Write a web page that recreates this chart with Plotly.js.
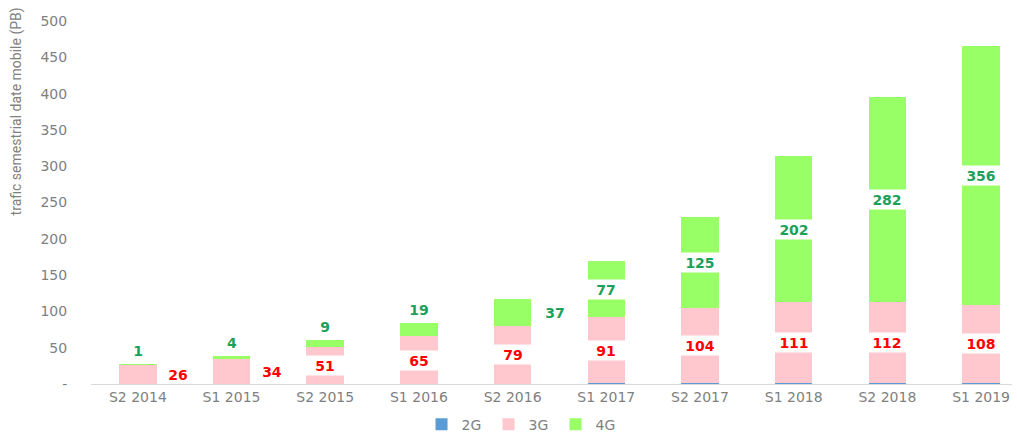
<!DOCTYPE html>
<html>
<head>
<meta charset="utf-8">
<script src="https://cdn.plot.ly/plotly-3.0.1.min.js"></script>
<style>html,body{margin:0;padding:0;background:#fff;}#chart{width:1017px;height:432px;}</style>
</head>
<body>
<div id="chart"></div>
<script>
const categories = ["S2 2014","S1 2015","S2 2015","S1 2016","S2 2016","S1 2017","S2 2017","S1 2018","S2 2018","S1 2019"];
const traffic2G = [0.5,0.5,0.5,0.5,0.5,1,1,1.5,1.5,1.5];
const traffic3G = [26,34,51,65,79,91,104,111,112,108];
const traffic4G = [1,4,9,19,37,77,125,202,282,356];
const yTickVals = [0,50,100,150,200,250,300,350,400,450,500];
const yTickText = ["-","50","100","150","200","250","300","350","400","450","500"];

const xIdx = categories.map((c,i)=>i);
const font = "DejaVu Sans, Verdana, sans-serif";

const traces = [
  {type:'bar', name:'2G', x:xIdx, y:traffic2G, marker:{color:'#5B9BD5'}, hoverinfo:'skip'},
  {type:'bar', name:'3G', x:xIdx, y:traffic3G, marker:{color:'#FFC7CE'}, hoverinfo:'skip'},
  {type:'bar', name:'4G', x:xIdx, y:traffic4G, marker:{color:'#99FF66'}, hoverinfo:'skip'}
];

const annotations = [];
const labSize = 14;
xIdx.forEach(i=>{
  const base = traffic2G[i];
  const v3 = traffic3G[i];
  const right3 = v3 < 40;
  annotations.push({
    x:i, y: base + v3/2, xref:'x', yref:'y', text:'<b>'+v3+'</b>', showarrow:false,
    font:{family:font,size:labSize,color:'#FF0000'}, bgcolor: right3 ? 'rgba(255,255,255,0)' : '#FFFFFF',
    width:42, height:19, borderpad:0, xshift: right3 ? 40 : 0
  });
  const v4 = traffic4G[i];
  const total = base + v3 + v4;
  let a = {x:i, xref:'x', yref:'y', text:'<b>'+v4+'</b>', showarrow:false,
    font:{family:font,size:labSize,color:'#1DA15A'}, bgcolor:'#FFFFFF', width:42, height:19, borderpad:0};
  if (v4 < 30) { a.y = total; a.yanchor='bottom'; a.yshift=3; a.bgcolor='rgba(255,255,255,0)'; }
  else if (v4 < 50) { a.y = base + v3 + v4/2; a.xshift = 42; a.bgcolor='rgba(255,255,255,0)'; }
  else { a.y = base + v3 + v4/2; }
  annotations.push(a);
});

annotations.push({
  xref:'paper', yref:'paper', x:-0.081, y:0.752, text:'trafic semestrial date mobile (PB)',
  textangle:-90, showarrow:false, font:{family:'Liberation Sans Narrow, Roboto, sans-serif', size:14, color:'#7F7F7F'},
  xanchor:'center', yanchor:'middle'
});

const layout = {
  width:1017, height:432,
  margin:{l:91, r:5, t:21, b:47.5, autoexpand:false},
  paper_bgcolor:'#FFFFFF', plot_bgcolor:'#FFFFFF',
  barmode:'stack', bargap:0.6,
  showlegend:true,
  legend:{orientation:'h', x:0.468, xanchor:'center', y:-0.112, yanchor:'middle',
    font:{family:font, size:14, color:'#7F7F7F'}, itemwidth:30, entrywidth:22, traceorder:'normal'},
  xaxis:{
    range:[-0.5, 9.33], tickvals:xIdx, ticktext:categories, showgrid:false, zeroline:false,
    showline:true, linecolor:'#D9D9D9', linewidth:1, ticks:'',
    tickfont:{family:font, size:14, color:'#7F7F7F'}, fixedrange:true, automargin:false
  },
  yaxis:{
    range:[0,500], tickvals:yTickVals, ticktext:yTickText, showgrid:false, zeroline:false,
    showline:false, ticks:'outside', ticklen:20, tickcolor:'rgba(0,0,0,0)',
    tickfont:{family:font, size:14, color:'#7F7F7F'}, fixedrange:true, automargin:false
  },
  annotations: annotations
};

Plotly.newPlot('chart', traces, layout, {displayModeBar:false, staticPlot:true});
</script>
</body>
</html>
